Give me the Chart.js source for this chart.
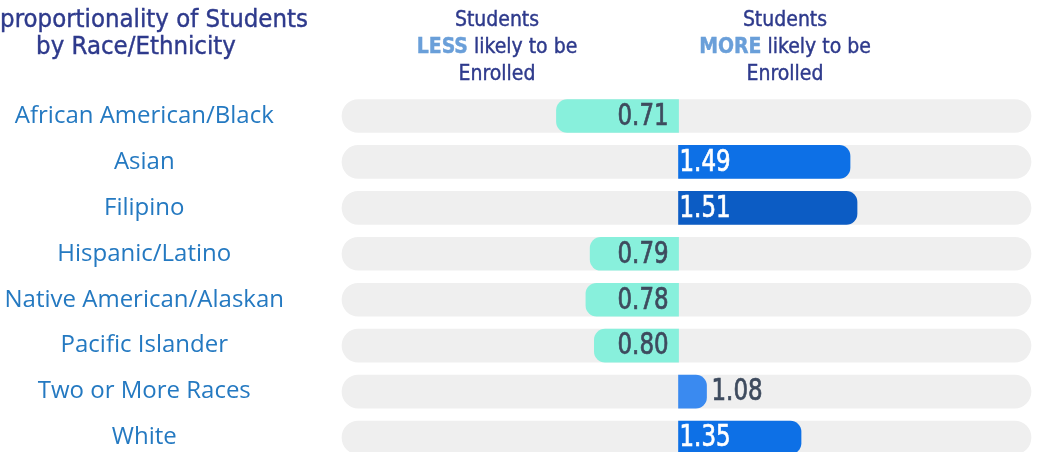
<!DOCTYPE html>
<html>
<head>
<meta charset="utf-8">
<script src="https://cdn.jsdelivr.net/npm/chart.js@4/dist/chart.umd.min.js"></script>
<style>
  html, body { margin: 0; padding: 0; background: #fff; overflow: hidden; }
  #wrap { position: relative; width: 1039px; height: 452px; }
  .hdr {
    position: absolute; transform: translateX(-50%);
    white-space: nowrap; text-align: center;
    font-family: "DejaVu Sans Condensed", "DejaVu Sans", sans-serif;
    color: #2e3a8c; -webkit-text-stroke: 0.4px #2e3a8c;
  }
  .hdr b { color: #6a9fd9; -webkit-text-stroke: 0.4px #6a9fd9; }
  .title { top: 5px; font-size: 25.5px; line-height: 27px; }
  .side { top: 6px; font-size: 21px; line-height: 27px; }
</style>
</head>
<body>
<div id="wrap">
  <canvas id="barChart" width="1039" height="452"></canvas>
  <div class="hdr title" style="left:136px">Disproportionality of Students<br>by Race/Ethnicity</div>
  <div class="hdr side" style="left:497px">Students<br><b>LESS</b> likely to be<br>Enrolled</div>
  <div class="hdr side" style="left:785px">Students<br><b>MORE</b> likely to be<br>Enrolled</div>
</div>
<script>
// chart data
const categories = [
    'African American/Black',
    'Asian',
    'Filipino',
    'Hispanic/Latino',
    'Native American/Alaskan',
    'Pacific Islander',
    'Two or More Races',
    'White'
];
const ratios = [0.71, 1.49, 1.51, 0.79, 0.78, 0.80, 1.08, 1.35];
const baseline = 1;

// the two halves of the graphic are not drawn to the same scale,
// so LESS and MORE get their own axis, both with 1 at the divider
const lessRange = [0.2007, 1.837];
const moreRange = [0.0386, 2.007];

// split ratios into the two sides
const lessData = ratios.map(function (v) { return v < baseline ? v : null; });
const moreData = ratios.map(function (v) { return v >= baseline ? v : null; });

// colours
const lessColor = '#88f0dc';
const moreColors = ['#0d70e6', '#0c5cc4', '#3a8af0', '#0d70e6'];
let moreIdx = 0;
const moreBarColors = ratios.map(function (v) {
    return v >= baseline ? moreColors[moreIdx++] : 'transparent';
});

let ctx = document.getElementById('barChart').getContext('2d');

//Write the ratio on each bar
const valueLabels = {
    id: 'valueLabels',
    afterDatasetsDraw(chart) {
        const c = chart.ctx;
        const squeeze = 0.85;
        c.save();
        c.font = '30px "DejaVu Sans Condensed", sans-serif';
        c.textBaseline = 'middle';
        c.lineWidth = 0.7;
        ratios.forEach(function (v, i) {
            const bar = chart.getDatasetMeta(v < baseline ? 0 : 1).data[i];
            const txt = v.toFixed(2);
            let x, color, align;
            if (v < baseline) {
                color = '#3e4b5e'; align = 'right'; x = bar.base - 10;
            } else if (bar.x - bar.base > 60) {
                color = '#ffffff'; align = 'left'; x = bar.base + 1;
            } else {
                color = '#3e4b5e'; align = 'left'; x = bar.x + 5;
            }
            c.save();
            c.translate(x, bar.y + 1);
            c.scale(squeeze, 1);
            c.textAlign = align;
            c.fillStyle = color;
            c.strokeStyle = color;
            c.fillText(txt, 0, 0);
            c.strokeText(txt, 0, 0);
            c.restore();
        });
        c.restore();
    }
};

let chart = new Chart(ctx, {
    type: 'bar',
    data: {
        labels: categories,
        datasets: [{
            label: 'Less likely',
            data: lessData,
            xAxisID: 'x',
            base: baseline,
            backgroundColor: lessColor,
            borderRadius: 11,
            borderSkipped: 'start',
            barThickness: 33,
            grouped: false,
            clip: false,
            order: 1
        }, {
            label: 'More likely',
            data: moreData,
            xAxisID: 'x2',
            base: baseline,
            backgroundColor: moreBarColors,
            borderRadius: 11,
            borderSkipped: 'start',
            barThickness: 33,
            grouped: false,
            clip: false,
            order: 1
        }, {
            label: 'Track',
            data: categories.map(function () { return lessRange; }),
            xAxisID: 'x',
            backgroundColor: '#efefef',
            borderRadius: 17,
            borderSkipped: false,
            barThickness: 33,
            grouped: false,
            clip: false,
            order: 2
        }]
    },
    options: {
        indexAxis: 'y',
        responsive: false,
        animation: false,
        layout: { padding: { top: 116, bottom: 14.5, left: 0, right: 8 } },
        plugins: {
            legend: { display: false },
            tooltip: { enabled: false }
        },
        scales: {
            x: { display: false, min: lessRange[0], max: lessRange[1] },
            x2: { display: false, min: moreRange[0], max: moreRange[1] },
            y: {
                offset: false,
                grid: {
                    display: true,
                    drawOnChartArea: false,
                    drawTicks: true,
                    tickLength: 58,
                    color: 'rgba(0,0,0,0)'
                },
                border: { display: false },
                afterFit: function (scale) { scale.width = 342; },
                ticks: {
                    crossAlign: 'center',
                    padding: 0,
                    color: '#2479c1',
                    font: { family: '"Open Sans", sans-serif', size: 24 }
                }
            }
        }
    },
    plugins: [valueLabels]
});
</script>
</body>
</html>
